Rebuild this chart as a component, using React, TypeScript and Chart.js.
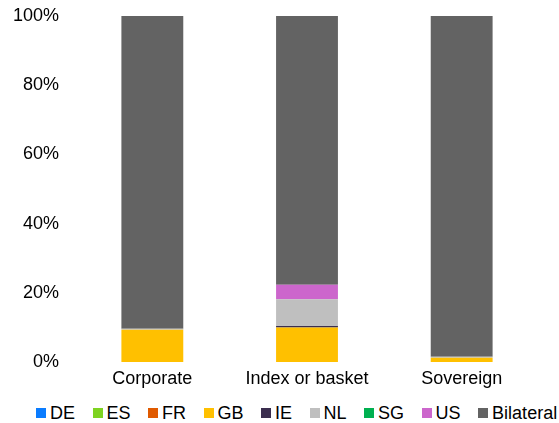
import React, { useEffect, useRef } from "react";
import { Chart, registerables } from "chart.js";

Chart.register(...registerables);

const categories = ["Corporate", "Index or basket", "Sovereign"];
const seriesNames = ["DE", "ES", "FR", "GB", "IE", "NL", "SG", "US", "Bilateral"];
const DE = [0, 0, 0];
const ES = [0, 0, 0];
const FR = [0, 0, 0];
const GB = [9.3, 10.0, 1.2];
const IE = [0, 0.4, 0];
const NL = [0.3, 7.7, 0.3];
const SG = [0, 0, 0];
const US = [0, 4.2, 0];
const Bilateral = [90.4, 77.7, 98.5];
const yTicks = [0, 20, 40, 60, 80, 100];

const seriesValues = [DE, ES, FR, GB, IE, NL, SG, US, Bilateral];
const seriesColors = [
  "#0A7CFF",
  "#7ED321",
  "#E05A00",
  "#FFC000",
  "#3B2E4F",
  "#BFBFBF",
  "#00B050",
  "#CC66CC",
  "#636363",
];

const FONT_FAMILY = "'Liberation Sans', Arial, sans-serif";

export default function App() {
  const ref = useRef<HTMLCanvasElement>(null);
  useEffect(() => {
    document.body.style.margin = "0";
    const font = { family: FONT_FAMILY, size: 18 };
    const chart = new Chart(ref.current!, {
      type: "bar",
      data: {
        labels: categories,
        datasets: seriesNames.map((n, i) => ({
          label: n,
          data: seriesValues[i],
          backgroundColor: seriesColors[i],
          borderWidth: 0,
          categoryPercentage: 1,
          barPercentage: 0.4,
        })),
      },
      options: {
        animation: false,
        responsive: false,
        maintainAspectRatio: false,
        layout: { padding: { top: 16, right: 20, left: 0, bottom: 10 } },
        plugins: {
          tooltip: { enabled: false },
          legend: { display: false },
        },
        scales: {
          x: {
            stacked: true,
            afterFit: (s: any) => {
              s.height = 28;
              s.paddingLeft = 0;
              s.paddingRight = 0;
            },
            grid: { display: false, drawTicks: false },
            border: { display: false },
            ticks: { font, color: "#000", padding: 6 },
          },
          y: {
            stacked: true,
            min: 0,
            max: 100,
            afterBuildTicks: (s: any) => {
              s.ticks = yTicks.map((v) => ({ value: v }));
            },
            afterFit: (s: any) => {
              s.width = 75;
              s.paddingTop = 0;
              s.paddingBottom = 0;
            },
            grid: { display: false, drawTicks: false },
            border: { display: false },
            ticks: {
              font,
              color: "#000",
              padding: 16,
              callback: (v: any) => v + "%",
            },
          },
        },
      },
    });
    return () => chart.destroy();
  }, []);
  return (
    <div style={{ width: 559, height: 423, fontFamily: FONT_FAMILY }}>
      <canvas ref={ref} width={559} height={400} style={{ display: "block" }} />
      <div
        style={{
          display: "flex",
          alignItems: "center",
          height: 26,
          paddingLeft: 36,
          fontSize: 18,
          color: "#000",
          lineHeight: "26px",
          whiteSpace: "nowrap",
        }}
      >
        {seriesNames.map((n, i) => (
          <div
            key={n}
            style={{ display: "flex", alignItems: "center", marginRight: 17.5 }}
          >
            <span
              style={{
                display: "inline-block",
                width: 10,
                height: 10,
                background: seriesColors[i],
                marginRight: 4,
              }}
            />
            <span>{n}</span>
          </div>
        ))}
      </div>
    </div>
  );
}
